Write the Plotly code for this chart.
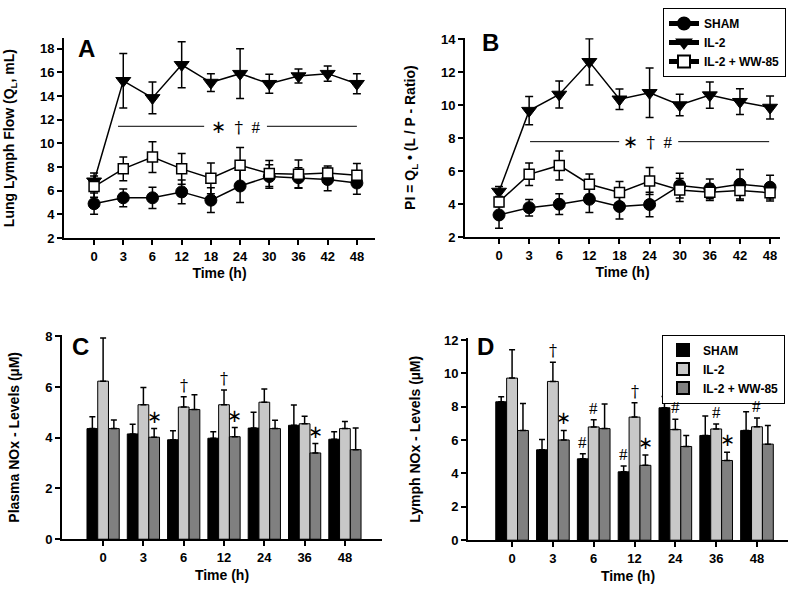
import plotly.graph_objects as go

# ---------------- data ----------------
time_lines = ["0", "3", "6", "12", "18", "24", "30", "36", "42", "48"]

a_sham = [4.9, 5.4, 5.4, 5.9, 5.2, 6.4, 7.2, 7.1, 6.95, 6.65]
a_sham_err = [0.9, 0.75, 0.9, 1.0, 1.05, 1.4, 1.0, 0.85, 0.95, 0.95]
a_il2 = [6.8, 15.3, 13.85, 16.65, 15.15, 15.9, 15.05, 15.7, 15.9, 15.05]
a_il2_err = [0.7, 2.3, 1.35, 1.95, 0.75, 2.1, 0.8, 0.6, 0.65, 0.85]
a_ww = [6.35, 7.85, 8.85, 7.85, 7.05, 8.15, 7.45, 7.4, 7.5, 7.3]
a_ww_err = [0.9, 1.0, 1.3, 1.3, 1.3, 1.5, 1.1, 1.2, 0.6, 1.0]

b_sham = [3.34, 3.78, 3.99, 4.29, 3.85, 3.97, 5.12, 4.92, 5.2, 5.02]
b_sham_err = [0.8, 0.5, 0.63, 0.8, 0.76, 0.74, 0.75, 0.6, 0.9, 0.72]
b_il2 = [4.76, 9.66, 10.64, 12.62, 10.35, 10.74, 10.0, 10.6, 10.2, 9.85]
b_il2_err = [0.3, 0.86, 0.82, 1.4, 0.62, 1.5, 0.65, 0.8, 0.78, 0.7]
b_ww = [4.13, 5.8, 6.34, 5.2, 4.7, 5.4, 4.85, 4.72, 4.82, 4.68]
b_ww_err = [0.3, 0.68, 0.88, 0.62, 0.66, 0.82, 0.7, 0.5, 0.6, 0.5]

time_bars = ["0", "3", "6", "12", "24", "36", "48"]

c_sham = [4.36, 4.15, 3.92, 3.98, 4.38, 4.49, 3.94]
c_sham_err = [0.47, 0.38, 0.36, 0.26, 0.62, 0.8, 0.3]
c_il2 = [6.23, 5.3, 5.21, 5.3, 5.4, 4.55, 4.36]
c_il2_err = [1.7, 0.68, 0.41, 0.58, 0.52, 0.3, 0.28]
c_ww = [4.36, 4.02, 5.11, 4.04, 4.36, 3.4, 3.53]
c_ww_err = [0.34, 0.34, 0.58, 0.36, 0.33, 0.37, 0.85]

d_sham = [8.3, 5.42, 4.88, 4.1, 7.94, 6.28, 6.58]
d_sham_err = [0.3, 0.62, 0.3, 0.35, 0.68, 1.17, 1.12]
d_il2 = [9.72, 9.52, 6.79, 7.38, 6.63, 6.67, 6.8]
d_il2_err = [1.7, 1.15, 0.43, 0.86, 0.62, 0.3, 0.52]
d_ww = [6.58, 6.01, 6.69, 4.49, 5.62, 4.78, 5.76]
d_ww_err = [1.62, 0.57, 1.47, 0.62, 0.66, 0.49, 1.11]

series_names = ["SHAM", "IL-2", "IL-2 + WW-85"]
bar_colors = ["#000000", "#c8c8c8", "#808080"]

# significance marks: (category index, series index, symbol)
c_marks = [(1, 2, "*"), (2, 1, "†"), (3, 1, "†"), (3, 2, "*"), (5, 2, "*")]
d_marks = [(1, 1, "†"), (1, 2, "*"), (2, 0, "#"), (2, 1, "#"), (3, 0, "#"),
           (3, 1, "†"), (3, 2, "*"), (4, 1, "#"), (5, 1, "#"), (5, 2, "*"),
           (6, 1, "#")]

FONT = "Liberation Sans"

fig = go.Figure()

def line_traces(xa, ya, vals, errs, show):
    styles = [
        dict(symbol="circle", size=12, color="black", line=dict(color="black", width=1)),
        dict(symbol="triangle-down", size=13, color="black", line=dict(color="black", width=1)),
        dict(symbol="square", size=10, color="white", line=dict(color="black", width=1.5)),
    ]
    for i, (v, e) in enumerate(zip(vals, errs)):
        fig.add_trace(go.Scatter(
            x=time_lines, y=v, mode="lines+markers", name=series_names[i],
            xaxis=xa, yaxis=ya, showlegend=show, legend="legend",
            line=dict(color="black", width=1.5), marker=styles[i],
            error_y=dict(type="data", array=e, visible=True, color="black",
                         thickness=1.5, width=4),
            cliponaxis=False,
        ))

line_traces("x", "y", [a_sham, a_il2, a_ww], [a_sham_err, a_il2_err, a_ww_err], False)
line_traces("x2", "y2", [b_sham, b_il2, b_ww], [b_sham_err, b_il2_err, b_ww_err], True)

def bar_traces(xa, ya, vals, errs, show):
    for i, (v, e) in enumerate(zip(vals, errs)):
        fig.add_trace(go.Bar(
            x=time_bars, y=v, name=series_names[i], xaxis=xa, yaxis=ya,
            showlegend=show, legend="legend2",
            marker=dict(color=bar_colors[i], line=dict(color="black", width=1)),
            error_y=dict(type="data", array=e, arrayminus=[0] * len(e),
                         symmetric=False, visible=True, color="black",
                         thickness=1.5, width=3),
        ))

bar_traces("x3", "y3", [c_sham, c_il2, c_ww], [c_sham_err, c_il2_err, c_ww_err], False)
bar_traces("x4", "y4", [d_sham, d_il2, d_ww], [d_sham_err, d_il2_err, d_ww_err], True)

annotations = []
shapes = []

SYM_STYLE = {
    "*": ("∗", "DejaVu Sans", 18, 0),
    "†": ("†", "DejaVu Serif", 16, 0),
    "#": ("#", "Liberation Serif", 17, 0),
}

def add_marks(marks, vals, errs, xref, yref, pad):
    width = 0.8 / 3
    for cat, s, sym in marks:
        top = vals[s][cat] + errs[s][cat]
        txt, fam, size, ys = SYM_STYLE[sym]
        annotations.append(dict(
            x=cat + (s - 1) * width, y=top + pad, xref=xref, yref=yref,
            text=txt, showarrow=False, yanchor="bottom",
            font=dict(family=fam, size=size, color="black"), yshift=ys,
        ))

add_marks(c_marks, [c_sham, c_il2, c_ww], [c_sham_err, c_il2_err, c_ww_err], "x3", "y3", 0.0)
add_marks(d_marks, [d_sham, d_il2, d_ww], [d_sham_err, d_il2_err, d_ww_err], "x4", "y4", 0.0)

# significance bars in A and B
def sig_line(xref, yref, y, segs, xc):
    for x0, x1 in segs:
        shapes.append(dict(type="line", xref=xref, yref=yref, x0=x0, x1=x1,
                           y0=y, y1=y, line=dict(color="black", width=1)))
    annotations.append(dict(
        x=xc, y=y, xref=xref, yref=yref, showarrow=False,
        text="<span style='font-family:DejaVu Sans;font-size:18px'>∗</span>"
             "  <span style='font-family:DejaVu Serif'>†</span>  #",
        font=dict(family="Liberation Serif", size=17, color="black")))

sig_line("x", "y", 11.45, [(0.82, 3.77), (5.92, 9.0)], 4.85)
sig_line("x2", "y2", 7.78, [(1.03, 3.99), (5.95, 8.97)], 4.95)

# panel letters
for txt, xr, yr, xv, yv in [("A", "x", "y", -0.25, 18.0), ("B", "x2", "y2", -0.3, 13.8),
                            ("C", "x3", "y3", -0.55, 7.6), ("D", "x4", "y4", -0.65, 11.6)]:
    annotations.append(dict(x=xv, y=yv, xref=xr, yref=yr, text=txt, showarrow=False,
                            font=dict(family=FONT, size=24, color="black", weight="bold")))

tickfont = dict(family=FONT, size=13, color="black", weight="bold")
titlefont = dict(family=FONT, size=14, color="black", weight="bold")

def xaxis(domain, rng, anchor):
    return dict(domain=domain, range=rng, anchor=anchor, type="category",
                showline=True, linecolor="black", linewidth=2, ticks="outside",
                ticklen=5, tickwidth=1.5, tickcolor="black", showgrid=False,
                zeroline=False, tickfont=tickfont,
                title=dict(text="Time (h)", font=titlefont, standoff=6))

def yaxis(domain, rng, anchor, title, dtick, standoff):
    return dict(domain=domain, range=rng, anchor=anchor, showline=True,
                linecolor="black", linewidth=2, ticks="outside", ticklen=5,
                tickwidth=1.5, tickcolor="black", showgrid=False, zeroline=False,
                dtick=dtick, tick0=0, tickfont=tickfont,
                title=dict(text=title, font=titlefont, standoff=standoff))

W, H = 800, 594
def xd(a, b):
    return [a / W, b / W]
def yd(top, bottom):
    return [(H - bottom) / H, (H - top) / H]

legfont = dict(family=FONT, size=12, color="black", weight="bold")

fig.update_layout(
    width=W, height=H, margin=dict(l=0, r=0, t=0, b=0),
    paper_bgcolor="white", plot_bgcolor="white",
    barmode="group", bargap=0.2, bargroupgap=0,
    xaxis=xaxis(xd(64, 375), [-1.03, 9.62], "y"),
    yaxis=yaxis(yd(32, 237), [2, 18.9], "x", "Lung Lymph Flow (Q<sub>L</sub>, mL)", 2, 22),
    xaxis2=xaxis(xd(465, 780), [-1.13, 9.33], "y2"),
    yaxis2=yaxis(yd(32, 236), [2, 14.05], "x2", "PI = Q<sub>L</sub> • (L / P - Ratio)", 2, 22),
    xaxis3=xaxis(xd(62, 382), [-1.02, 6.92], "y3"),
    yaxis3=yaxis(yd(337, 546), [0, 8.03], "x3", "Plasma NOx - Levels (µM)", 2, 22),
    xaxis4=xaxis(xd(468, 788), [-1.08, 6.76], "y4"),
    yaxis4=yaxis(yd(340, 547), [0, 12.1], "x4", "Lymph NOx - Levels (µM)", 2, 20),
    legend=dict(x=663 / W, y=1 - 1 / H, xanchor="left", yanchor="top",
                bordercolor="black", borderwidth=1, bgcolor="white",
                font=legfont, tracegroupgap=0, itemsizing="constant"),
    legend2=dict(x=662 / W, y=1 - 336 / H, xanchor="left", yanchor="top",
                 bordercolor="black", borderwidth=1, bgcolor="white",
                 font=legfont, tracegroupgap=0, itemsizing="constant"),
    annotations=annotations, shapes=shapes,
)

fig.write_html("out.html", config={"displayModeBar": False},
               post_script="document.body.style.margin='0';document.body.style.padding='0';")
